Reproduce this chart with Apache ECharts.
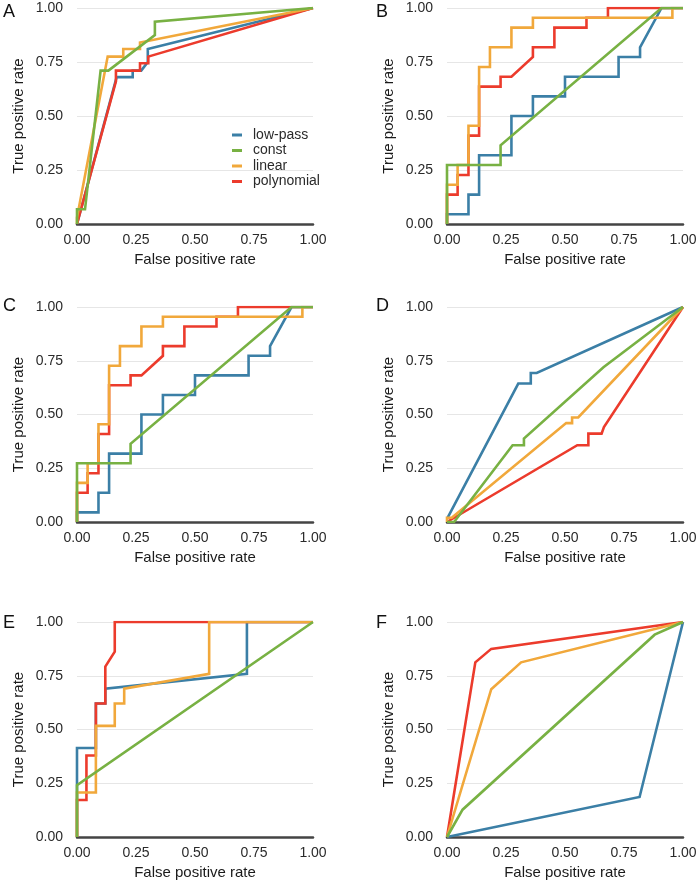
<!DOCTYPE html>
<html>
<head>
<meta charset="utf-8">
<script src="https://cdn.jsdelivr.net/npm/echarts@6/dist/echarts.min.js"></script>
<style>
html,body{margin:0;padding:0;background:#fff;}
#chart{width:700px;height:885px;}
</style>
</head>
<body>
<div id="chart"></div>
<script>
// ---------------- DATA ----------------
const seriesNames = ['low-pass', 'const', 'linear', 'polynomial'];
const panelLetters = ['A', 'B', 'C', 'D', 'E', 'F'];
const tickValues = [0, 0.25, 0.5, 0.75, 1];
const tickLabels = ['0.00', '0.25', '0.50', '0.75', '1.00'];
const xAxisTitle = 'False positive rate';
const yAxisTitle = 'True positive rate';

// Panel A  [FPR, TPR]
const A_lowpass = [[0,0],[0.168,0.68],[0.236,0.68],[0.236,0.71],[0.272,0.71],[0.30,0.75],[0.30,0.81],[1,1]];
const A_const = [[0,0],[0,0.068],[0.034,0.068],[0.10,0.71],[0.133,0.71],[0.33,0.875],[0.33,0.937],[1,1]];
const A_linear = [[0,0],[0,0.03],[0.13,0.775],[0.196,0.775],[0.196,0.81],[0.267,0.81],[0.267,0.84],[1,1]];
const A_poly = [[0,0],[0.165,0.66],[0.165,0.71],[0.267,0.71],[0.267,0.744],[0.302,0.744],[0.302,0.775],[1,1]];

// Panel B
const B_lowpass = [[0,0],[0,0.045],[0.091,0.045],[0.091,0.136],[0.136,0.136],[0.136,0.318],[0.273,0.318],[0.273,0.5],[0.364,0.5],[0.364,0.591],[0.5,0.591],[0.5,0.682],[0.727,0.682],[0.727,0.773],[0.818,0.773],[0.818,0.818],[0.909,1],[1,1]];
const B_const = [[0,0],[0,0.273],[0.227,0.273],[0.227,0.364],[0.909,1],[1,1]];
const B_linear = [[0,0],[0,0.182],[0.045,0.182],[0.045,0.273],[0.091,0.273],[0.091,0.455],[0.136,0.455],[0.136,0.727],[0.182,0.727],[0.182,0.818],[0.273,0.818],[0.273,0.909],[0.364,0.909],[0.364,0.955],[0.955,0.955],[0.955,1],[1,1]];
const B_poly = [[0,0],[0,0.136],[0.045,0.136],[0.045,0.227],[0.091,0.227],[0.091,0.409],[0.136,0.409],[0.136,0.636],[0.227,0.636],[0.227,0.682],[0.273,0.682],[0.364,0.773],[0.364,0.818],[0.455,0.818],[0.455,0.909],[0.591,0.909],[0.591,0.955],[0.682,0.955],[0.682,1],[1,1]];

// Panel C
const C_lowpass = [[0,0],[0,0.045],[0.091,0.045],[0.091,0.136],[0.136,0.136],[0.136,0.318],[0.273,0.318],[0.273,0.5],[0.364,0.5],[0.364,0.591],[0.5,0.591],[0.5,0.682],[0.727,0.682],[0.727,0.773],[0.818,0.773],[0.818,0.818],[0.909,1],[1,1]];
const C_const = [[0,0],[0,0.273],[0.227,0.273],[0.227,0.364],[0.909,1],[1,1]];
const C_linear = [[0,0],[0,0.182],[0.045,0.182],[0.045,0.273],[0.091,0.273],[0.091,0.455],[0.136,0.455],[0.136,0.727],[0.182,0.727],[0.182,0.818],[0.273,0.818],[0.273,0.909],[0.364,0.909],[0.364,0.955],[0.955,0.955],[0.955,1],[1,1]];
const C_poly = [[0,0],[0,0.136],[0.045,0.136],[0.045,0.227],[0.091,0.227],[0.091,0.409],[0.136,0.409],[0.136,0.636],[0.227,0.636],[0.227,0.682],[0.273,0.682],[0.364,0.773],[0.364,0.818],[0.455,0.818],[0.455,0.909],[0.591,0.909],[0.591,0.955],[0.682,0.955],[0.682,1],[1,1]];

// Panel D
const D_lowpass = [[0,0.015],[0.302,0.644],[0.355,0.644],[0.355,0.693],[0.38,0.693],[1,1]];
const D_const = [[0,0],[0.03,0],[0.278,0.357],[0.326,0.357],[0.326,0.388],[0.663,0.72],[1,1]];
const D_linear = [[0,0],[0,0.02],[0.02,0.02],[0.505,0.46],[0.53,0.46],[0.53,0.486],[0.556,0.486],[1,1]];
const D_poly = [[0,0],[0.552,0.357],[0.599,0.357],[0.599,0.411],[0.655,0.411],[0.665,0.442],[1,1]];

// Panel E
const E_lowpass = [[0,0],[0,0.414],[0.08,0.414],[0.08,0.621],[0.12,0.621],[0.12,0.69],[0.72,0.759],[0.72,1],[1,1]];
const E_const = [[0,0],[0,0.241],[1,1]];
const E_linear = [[0,0],[0,0.207],[0.08,0.207],[0.08,0.517],[0.16,0.517],[0.16,0.621],[0.2,0.621],[0.2,0.69],[0.56,0.759],[0.56,1],[1,1]];
const E_poly = [[0,0],[0,0.172],[0.04,0.172],[0.04,0.379],[0.08,0.379],[0.08,0.621],[0.12,0.621],[0.12,0.793],[0.16,0.862],[0.16,1],[1,1]];

// Panel F
const F_lowpass = [[0,0],[0.816,0.186],[1,1]];
const F_const = [[0,0],[0.066,0.127],[0.88,0.941],[1,1]];
const F_linear = [[0,0],[0.1875,0.6875],[0.314,0.8125],[1,1]];
const F_poly = [[0,0],[0.12,0.8125],[0.1875,0.875],[1,1]];

const panelData = [
  {lowpass: A_lowpass, cnst: A_const, linear: A_linear, poly: A_poly},
  {lowpass: B_lowpass, cnst: B_const, linear: B_linear, poly: B_poly},
  {lowpass: C_lowpass, cnst: C_const, linear: C_linear, poly: C_poly},
  {lowpass: D_lowpass, cnst: D_const, linear: D_linear, poly: D_poly},
  {lowpass: E_lowpass, cnst: E_const, linear: E_linear, poly: E_poly},
  {lowpass: F_lowpass, cnst: F_const, linear: F_linear, poly: F_poly}
];

// ---------------- STYLE / LAYOUT ----------------
const colors = {'low-pass': '#3b7fa6', 'const': '#78b143', 'linear': '#f1a83b', 'polynomial': '#ec3b2c'};
const FONT = '"Liberation Sans", Arial, Helvetica, sans-serif';
const gridBoxes = [
  {left: 77, top: 8, width: 236, height: 216},
  {left: 447, top: 8, width: 236, height: 216},
  {left: 77, top: 307, width: 236, height: 215},
  {left: 447, top: 307, width: 236, height: 215},
  {left: 77, top: 622, width: 236, height: 215},
  {left: 447, top: 622, width: 236, height: 215}
];
const letterPos = [
  {left: 3, top: 3}, {left: 376, top: 3},
  {left: 3, top: 297}, {left: 376, top: 297},
  {left: 3, top: 614}, {left: 376, top: 614}
];

function fmt(v) {
  const i = tickValues.indexOf(+v.toFixed(2));
  return i >= 0 ? tickLabels[i] : v.toFixed(2);
}

const grids = [], xAxes = [], yAxes = [], series = [], titles = [];
gridBoxes.forEach((g, i) => {
  grids.push(Object.assign({containLabel: false}, g));
  xAxes.push({
    type: 'value', gridIndex: i, min: 0, max: 1, interval: 0.25,
    name: xAxisTitle, nameLocation: 'middle', nameGap: 28,
    nameTextStyle: {fontFamily: FONT, fontSize: 15, color: '#1a1a1a'},
    axisLine: {show: true, onZero: false, lineStyle: {color: '#444', width: 2.5}},
    axisTick: {show: false},
    axisLabel: {fontFamily: FONT, fontSize: 14, color: '#2a2a2a', margin: 9, formatter: fmt},
    splitLine: {show: false}
  });
  yAxes.push({
    type: 'value', gridIndex: i, min: 0, max: 1, interval: 0.25,
    name: yAxisTitle, nameLocation: 'middle', nameGap: 51,
    nameTextStyle: {fontFamily: FONT, fontSize: 15, color: '#1a1a1a'},
    axisLine: {show: false}, axisTick: {show: false},
    axisLabel: {fontFamily: FONT, fontSize: 14, color: '#2a2a2a', margin: 14, formatter: fmt},
    splitLine: {show: true, lineStyle: {color: '#e6e6e6', width: 1}}
  });
  titles.push({
    text: panelLetters[i], left: letterPos[i].left, top: letterPos[i].top, padding: 0,
    textStyle: {fontFamily: FONT, fontSize: 18, fontWeight: 'normal', color: '#111'}
  });
  const d = panelData[i];
  // drawing order: low-pass (bottom), polynomial, linear, const (top)
  const order = [['low-pass', d.lowpass], ['polynomial', d.poly], ['linear', d.linear], ['const', d.cnst]];
  order.forEach(([name, data]) => {
    series.push({
      type: 'line', name: name, xAxisIndex: i, yAxisIndex: i,
      data: data, symbol: 'none', showSymbol: false,
      lineStyle: {color: colors[name], width: 2.6, join: 'miter'},
      itemStyle: {color: colors[name]},
      emphasis: {disabled: true}
    });
  });
});

const chart = echarts.init(document.getElementById('chart'), null, {renderer: 'canvas'});
chart.setOption({
  animation: false,
  backgroundColor: '#fff',
  title: titles,
  grid: grids,
  xAxis: xAxes,
  yAxis: yAxes,
  legend: {
    data: seriesNames, orient: 'vertical', left: 227, top: 123,
    icon: 'rect', itemWidth: 10, itemHeight: 3, itemGap: 1.5,
    textStyle: {fontFamily: FONT, fontSize: 14, color: '#2a2a2a', lineHeight: 14, padding: [0, 0, 0, 6]},
    selectedMode: false
  },
  series: series
});
</script>
</body>
</html>
